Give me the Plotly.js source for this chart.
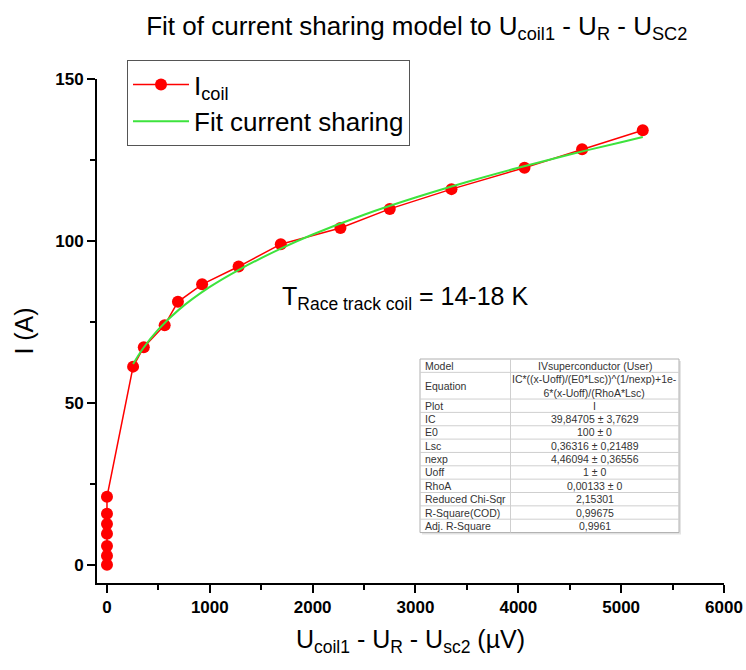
<!DOCTYPE html>
<html>
<head>
<meta charset="utf-8">
<script src="https://cdn.plot.ly/plotly-3.0.1.min.js"></script>
<style>
  html, body { margin: 0; padding: 0; background: #ffffff; }
  #chart { width: 746px; height: 670px; }
</style>
</head>
<body>
<div id="chart"></div>
<script>
// Measured coil current versus the corrected voltage U_coil1 - U_R - U_sc2
const voltageUV = [0, 0, 0, 0, 0, 0, 0, 254, 358, 561, 690, 925, 1280, 1690, 2270, 2750, 3350, 4060, 4620, 5210];
const currentA  = [0, 2.8, 5.8, 9.6, 12.6, 15.8, 21.0, 61.2, 67.2, 74.0, 81.2, 86.6, 92.1, 99.0, 104.0, 109.9, 116.0, 122.6, 128.3, 134.2];

// Current sharing fit curve, sampled along its length
const fitVoltageUV = [254, 350, 500, 700, 1000, 1300, 1700, 2000, 2500, 3000, 3500, 4000, 4500, 5000, 5210];
const fitCurrentA  = [62.0, 66.8, 72.7, 78.8, 85.8, 91.4, 97.8, 102.0, 108.1, 113.4, 118.2, 122.6, 126.7, 130.5, 132.1];

// Fit summary table
const tableLabels = ['Model', 'Equation', 'Plot', 'IC', 'E0', 'Lsc', 'nexp', 'Uoff', 'RhoA',
                     'Reduced Chi-Sqr', 'R-Square(COD)', 'Adj. R-Square'];
const tableValues = ['IVsuperconductor (User)',
                     'IC*((x-Uoff)/(E0*Lsc))^(1/nexp)+1e-<br>6*(x-Uoff)/(RhoA*Lsc)', 'I',
                     '39,84705 ± 3,7629', '100 ± 0', '0,36316 ± 0,21489', '4,46094 ± 0,36556',
                     '1 ± 0', '0,00133 ± 0', '2,15301', '0,99675', '0,9961'];

const FONT = 'Liberation Sans, Arial, sans-serif';

// Plot-area geometry (pixels) used to place the table box in paper coordinates
const W = 746, H = 670;
const M = { l: 97, r: 22, t: 79, b: 87 };
const PW = W - M.l - M.r, PH = H - M.t - M.b;
const px2x = px => (px - M.l) / PW;
const py2y = py => (H - M.b - py) / PH;

const shapes = [];
const annotations = [
  {
    x: 2901, y: 82.4, xref: 'x', yref: 'y',
    text: 'T<sub>Race track coil</sub> = 14-18 K',
    showarrow: false,
    font: { family: FONT, size: 25, color: '#000000' }
  }
];

// Table box
(function buildTable() {
  const left = 420, mid = 510.5, right = 679, top = 359;
  const unit = 13.35;
  const lineColor = '#cfcfcf';
  let y = top;
  tableLabels.forEach((label, i) => {
    const value = tableValues[i];
    const rows = value.indexOf('<br>') >= 0 ? 2 : 1;
    const h = rows * unit;
    const yc = y + h / 2;
    annotations.push({
      xref: 'paper', yref: 'paper', x: px2x(left + 3), y: py2y(yc),
      xanchor: 'left', yanchor: 'middle', showarrow: false,
      text: label, font: { family: FONT, size: 10.5, color: '#333333' }
    });
    annotations.push({
      xref: 'paper', yref: 'paper', x: px2x((mid + right) / 2), y: py2y(yc),
      xanchor: 'center', yanchor: 'middle', showarrow: false, align: 'center',
      text: value, font: { family: FONT, size: 10.5, color: '#333333' }
    });
    y += h;
    if (i < tableLabels.length - 1) {
      shapes.push({
        type: 'line', xref: 'paper', yref: 'paper', layer: 'above',
        x0: px2x(left), x1: px2x(right), y0: py2y(y), y1: py2y(y),
        line: { color: lineColor, width: 1 }
      });
    }
  });
  const bottom = y;
  // soft drop shadow
  shapes.unshift({
    type: 'rect', xref: 'paper', yref: 'paper', layer: 'above',
    x0: px2x(left + 2), x1: px2x(right + 2), y0: py2y(bottom + 2), y1: py2y(top + 2),
    fillcolor: '#e4e4e4', line: { width: 0 }
  });
  shapes.splice(1, 0, {
    type: 'rect', xref: 'paper', yref: 'paper', layer: 'above',
    x0: px2x(left), x1: px2x(right), y0: py2y(bottom), y1: py2y(top),
    fillcolor: '#ffffff', line: { color: '#b0b0b0', width: 1 }
  });
  shapes.push({
    type: 'line', xref: 'paper', yref: 'paper', layer: 'above',
    x0: px2x(mid), x1: px2x(mid), y0: py2y(bottom), y1: py2y(top),
    line: { color: lineColor, width: 1 }
  });
})();

const traces = [
  {
    type: 'scatter', mode: 'lines+markers',
    x: voltageUV, y: currentA,
    name: 'I<sub>coil</sub>',
    line: { color: '#ff0000', width: 1.5 },
    marker: { color: '#ff0000', size: 12, symbol: 'circle' }
  },
  {
    type: 'scatter', mode: 'lines',
    x: fitVoltageUV, y: fitCurrentA,
    name: 'Fit current sharing',
    line: { color: '#3de33d', width: 2, shape: 'spline', smoothing: 1 }
  }
];

const layout = {
  width: W, height: H,
  margin: M,
  paper_bgcolor: '#ffffff', plot_bgcolor: '#ffffff',
  font: { family: FONT, color: '#000000' },
  title: {
    text: 'Fit of current sharing model to U<sub>coil1</sub> - U<sub>R</sub> - U<sub>SC2</sub>',
    font: { family: FONT, size: 26, color: '#000000' },
    xref: 'paper', x: 0.51, xanchor: 'center',
    yref: 'container', y: 0.962, yanchor: 'middle'
  },
  xaxis: {
    range: [-97, 6000],
    tickvals: [0, 1000, 2000, 3000, 4000, 5000, 6000],
    ticks: 'outside', ticklen: 8, tickwidth: 2, tickcolor: '#000000',
    minor: { dtick: 500, tick0: 0, ticks: 'outside', ticklen: 5, tickwidth: 2, tickcolor: '#000000', showgrid: false },
    showline: true, linecolor: '#000000', linewidth: 2,
    showgrid: false, zeroline: false,
    tickfont: { family: FONT, size: 17, color: '#000000', weight: 'bold' },
    title: {
      text: 'U<sub>coil1</sub> - U<sub>R</sub> - U<sub>sc2</sub> (µV)',
      font: { family: FONT, size: 25, color: '#000000' },
      standoff: 14
    }
  },
  yaxis: {
    range: [-5.6, 150],
    tickvals: [0, 50, 100, 150],
    ticks: 'outside', ticklen: 8, tickwidth: 2, tickcolor: '#000000',
    minor: { dtick: 25, tick0: 0, ticks: 'outside', ticklen: 5, tickwidth: 2, tickcolor: '#000000', showgrid: false },
    showline: true, linecolor: '#000000', linewidth: 2,
    showgrid: false, zeroline: false,
    tickfont: { family: FONT, size: 17, color: '#000000', weight: 'bold' },
    title: {
      text: 'I (A)',
      font: { family: FONT, size: 25, color: '#000000' },
      standoff: 14
    }
  },
  legend: {
    x: px2x(127), y: py2y(60), xanchor: 'left', yanchor: 'top',
    bgcolor: '#ffffff', bordercolor: '#555555', borderwidth: 1,
    font: { family: FONT, size: 26, color: '#000000' },
    itemwidth: 56,
    tracegroupgap: 0
  },
  showlegend: true,
  shapes: shapes,
  annotations: annotations
};

Plotly.newPlot('chart', traces, layout, { displayModeBar: false, staticPlot: true });
</script>
</body>
</html>
